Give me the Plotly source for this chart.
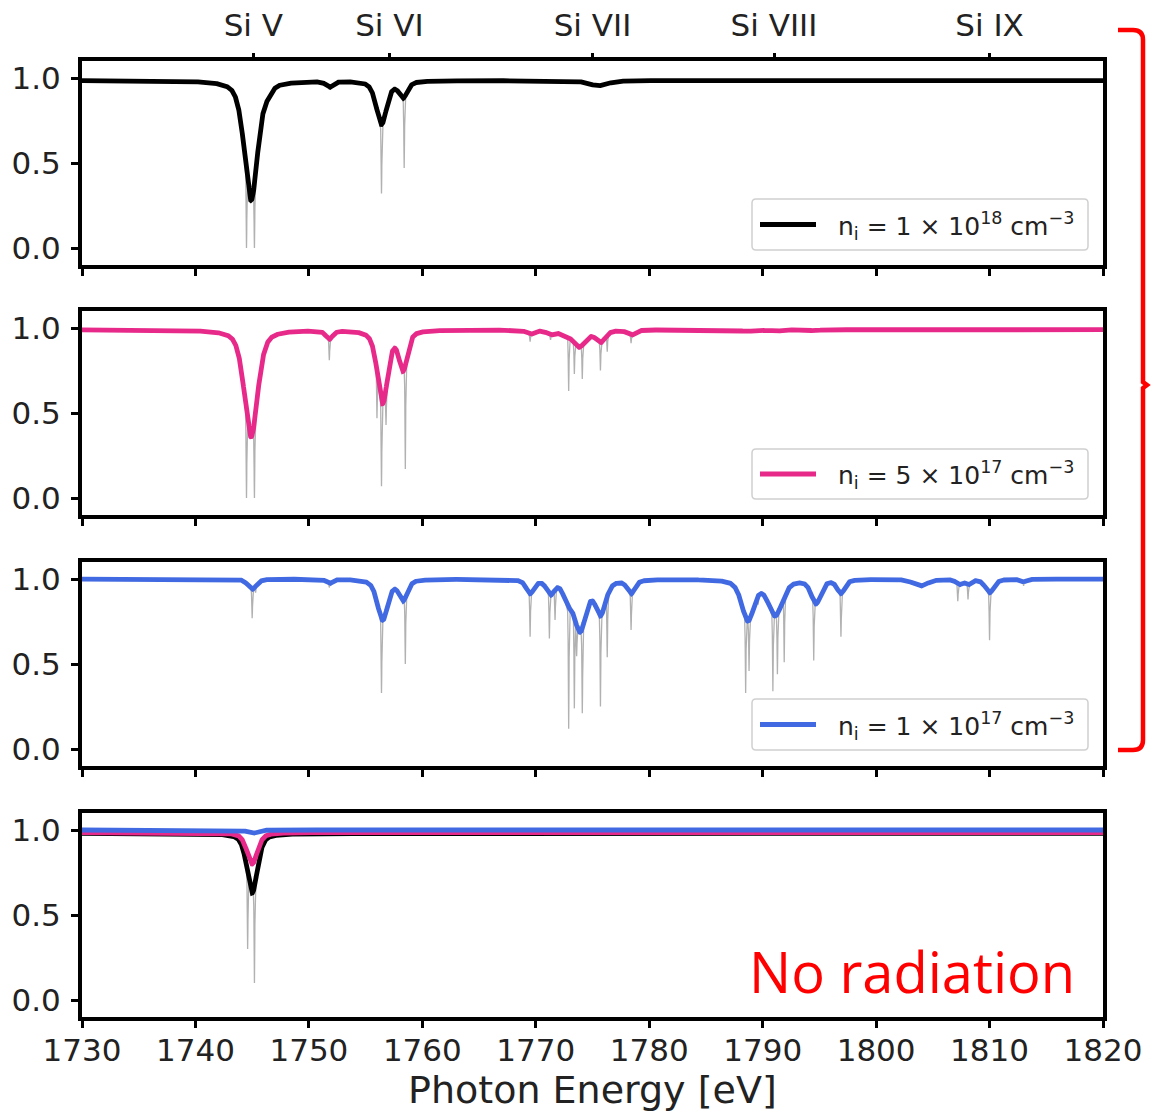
import numpy as np
import plotly.graph_objects as go

# ---------------------------------------------------------------------------
# Transmission spectra of Si ions near the K edge, for three ion densities
# (thick: instrument-broadened, thin gray: intrinsic line spectrum) plus
# a panel without an external radiation field.
# ---------------------------------------------------------------------------

E_MIN, E_MAX = 1730.0, 1820.0
x_ticks = [1730, 1740, 1750, 1760, 1770, 1780, 1790, 1800, 1810, 1820]
y_ticks = [0.0, 0.5, 1.0]
y_tick_text = ["0.0", "0.5", "1.0"]

ion_labels = ["Si V", "Si VI", "Si VII", "Si VIII", "Si IX"]
ion_energies = [1745.1, 1757.1, 1775.0, 1791.0, 1810.0]

density_labels = [
    "n<sub>i</sub> = 1 × 10<sup>18</sup> cm<sup>−3</sup>",
    "n<sub>i</sub> = 5 × 10<sup>17</sup> cm<sup>−3</sup>",
    "n<sub>i</sub> = 1 × 10<sup>17</sup> cm<sup>−3</sup>",
]

# --- n_i = 1e18 cm^-3 -------------------------------------------------------
hi_base = 0.985
hi_centers = [1744.9, 1746.4, 1751.8, 1756.4, 1758.3, 1775.5]
hi_minima = [0.28, 0.95, 0.95, 0.73, 0.89, 0.955]
hi_fwhm = [1.4, 0.8, 0.7, 1.1, 0.9, 2.0]
hi_line_centers = [1744.5, 1745.2, 1751.8, 1756.4, 1756.9, 1758.4]
hi_line_minima = [0.0, 0.0, 0.93, 0.32, 0.85, 0.47]

# --- n_i = 5e17 cm^-3 -------------------------------------------------------
mid_base = 0.99
mid_centers = [1744.9, 1751.8, 1756.5, 1758.3, 1769.5, 1771.3, 1772.4, 1773.8,
               1775.7, 1778.4, 1788.6, 1791.0, 1794.5, 1804.0]
mid_minima = [0.36, 0.94, 0.56, 0.76, 0.965, 0.965, 0.97, 0.89,
              0.92, 0.96, 0.98, 0.98, 0.985, 0.99]
mid_fwhm = [1.4, 0.7, 1.1, 0.9, 0.8, 0.8, 0.8, 1.4,
            1.0, 0.8, 1.2, 1.2, 1.0, 1.5]
mid_line_centers = [1744.5, 1745.0, 1745.2, 1751.8, 1756.0, 1756.4, 1756.8, 1758.5,
                    1769.5, 1771.3, 1772.9, 1773.4, 1774.1, 1775.7, 1776.3, 1778.4]
mid_line_minima = [0.0, 0.62, 0.0, 0.81, 0.47, 0.07, 0.43, 0.17,
                   0.92, 0.93, 0.63, 0.73, 0.70, 0.75, 0.86, 0.91]

# --- n_i = 1e17 cm^-3 -------------------------------------------------------
lo_base = 1.0
lo_centers = [1745.0, 1751.8, 1756.5, 1758.3, 1769.5, 1771.3, 1772.8, 1773.9,
              1775.7, 1778.4, 1788.7, 1791.1, 1794.7, 1796.9, 1803.9, 1807.3,
              1808.1, 1810.0, 1813.0]
lo_minima = [0.94, 0.975, 0.76, 0.88, 0.92, 0.92, 0.90, 0.70,
             0.80, 0.92, 0.76, 0.79, 0.86, 0.92, 0.96, 0.97,
             0.97, 0.92, 0.985]
lo_fwhm = [0.9, 0.6, 1.1, 0.9, 0.8, 0.8, 0.9, 1.3,
           1.1, 0.8, 1.3, 1.5, 1.0, 0.8, 1.5, 0.6,
           0.6, 0.9, 0.6]
lo_line_centers = [1745.0, 1745.3, 1751.8, 1756.4, 1756.8, 1758.5, 1769.5, 1771.2,
                   1771.7, 1772.9, 1773.4, 1773.6, 1774.1, 1775.7, 1776.3, 1778.4,
                   1788.5, 1788.8, 1789.6, 1790.9, 1791.3, 1791.9, 1794.5, 1794.9,
                   1796.9, 1803.7, 1807.2, 1808.1, 1810.0, 1813.0]
lo_line_minima = [0.77, 0.92, 0.95, 0.33, 0.80, 0.50, 0.66, 0.65,
                  0.76, 0.12, 0.24, 0.55, 0.21, 0.25, 0.54, 0.70,
                  0.33, 0.46, 0.85, 0.34, 0.44, 0.51, 0.52, 0.85,
                  0.66, 0.96, 0.87, 0.88, 0.64, 0.96]

# --- no radiation field -----------------------------------------------------
norad_bases = [0.98, 0.985, 1.0]
norad_centers = [1745.0, 1745.0, 1745.0]
norad_minima = [0.63, 0.80, 0.98]
norad_fwhm = [1.1, 1.1, 1.0]
norad_line_centers = [1744.6, 1745.2]
norad_line_minima = [0.30, 0.10]

BLACK = "#000000"
PINK = "#e7298a"
BLUE = "#4169e1"
GRAY = "rgba(125,125,125,0.6)"
FONT = "DejaVu Sans"

W, H = 1152, 1117
X0_PX, X1_PX = 82, 1103
PANELS_PX = [(61, 265), (311, 515), (562, 766), (813, 1017)]

energy = np.linspace(E_MIN, E_MAX, 9001)


def line_profile(x, c, fwhm, eta=0.5):
    """Peak-normalised pseudo-Voigt profile."""
    g = np.exp(-4.0 * np.log(2.0) * ((x - c) / fwhm) ** 2)
    lor = 1.0 / (1.0 + 4.0 * ((x - c) / fwhm) ** 2)
    return eta * lor + (1.0 - eta) * g


def spectrum(base, centers, minima, widths):
    y = np.full_like(energy, base)
    for c, m, w in zip(centers, minima, widths):
        depth = 1.0 - m / base
        y *= 1.0 - depth * line_profile(energy, c, w)
    return y


def line_spectrum(envelope, centers, minima):
    """Narrow line cores cut into the broadened envelope."""
    y = envelope.copy()
    for c, m in zip(centers, minima):
        env_c = np.interp(c, energy, envelope)
        depth = max(0.0, 1.0 - m / env_c) if env_c > 0 else 0.0
        y *= 1.0 - depth * line_profile(energy, c, 0.07, eta=0.3)
    return y


def px(xp):
    return xp / W


def py(yp):
    return 1.0 - yp / H


fig = go.Figure()

panels = [
    (hi_base, hi_centers, hi_minima, hi_fwhm, hi_line_centers, hi_line_minima, BLACK),
    (mid_base, mid_centers, mid_minima, mid_fwhm, mid_line_centers, mid_line_minima, PINK),
    (lo_base, lo_centers, lo_minima, lo_fwhm, lo_line_centers, lo_line_minima, BLUE),
]

for i, (base, cs, ms, ws, lcs, lms, col) in enumerate(panels):
    xa = "x" if i == 0 else f"x{i + 1}"
    ya = "y" if i == 0 else f"y{i + 1}"
    broadened = spectrum(base, cs, ms, ws)
    fig.add_trace(go.Scatter(x=energy, y=line_spectrum(broadened, lcs, lms), mode="lines",
                             line=dict(color=GRAY, width=1.3), xaxis=xa, yaxis=ya,
                             showlegend=False, hoverinfo="skip"))
    fig.add_trace(go.Scatter(x=energy, y=broadened, mode="lines",
                             line=dict(color=col, width=4.8), xaxis=xa, yaxis=ya,
                             showlegend=False))

# no-radiation panel
norad_curves = [spectrum(b, [c], [m], [w])
                for b, c, m, w in zip(norad_bases, norad_centers, norad_minima, norad_fwhm)]
fig.add_trace(go.Scatter(x=energy, y=line_spectrum(norad_curves[0], norad_line_centers, norad_line_minima),
                         mode="lines", line=dict(color=GRAY, width=1.3), xaxis="x4", yaxis="y4",
                         showlegend=False, hoverinfo="skip"))
for curve, col in zip(norad_curves, [BLACK, PINK, BLUE]):
    fig.add_trace(go.Scatter(x=energy, y=curve, mode="lines",
                             line=dict(color=col, width=4.8), xaxis="x4", yaxis="y4",
                             showlegend=False))

# carrier for the top ion-label axis
fig.add_trace(go.Scatter(x=[ion_energies[0]], y=[1.0], mode="lines", xaxis="x5", yaxis="y",
                         line=dict(width=0), showlegend=False, hoverinfo="skip"))

axis_common = dict(showline=True, linecolor="black", linewidth=4, mirror=True,
                   ticks="outside", ticklen=7, tickwidth=3, tickcolor="black",
                   showgrid=False, zeroline=False, automargin=False,
                   tickfont=dict(family=FONT, size=31, color="#222"))

layout = dict(width=W, height=H, margin=dict(l=0, r=0, t=0, b=0, autoexpand=False),
              paper_bgcolor="white", plot_bgcolor="white", showlegend=False)

for i, (top, bot) in enumerate(PANELS_PX):
    n = "" if i == 0 else str(i + 1)
    layout[f"xaxis{n}"] = dict(axis_common, domain=[px(X0_PX), px(X1_PX)],
                               range=[E_MIN, E_MAX], anchor=f"y{n}",
                               tickvals=x_ticks, showticklabels=(i == 3),
                               ticklabelstandoff=-4)
    layout[f"yaxis{n}"] = dict(axis_common, domain=[py(bot), py(top)],
                               range=[-0.1, 1.1], anchor=f"x{n}",
                               tickvals=y_ticks, ticktext=y_tick_text,
                               ticklabelstandoff=4)

layout["xaxis5"] = dict(axis_common, overlaying="x", side="top", anchor="y",
                        range=[E_MIN, E_MAX], tickvals=ion_energies, ticktext=ion_labels,
                        showline=False, mirror=False, ticklabelstandoff=5)

fig.update_layout(**layout)

# legends drawn as boxed entries in the lower-right of each panel
shapes = []
annotations = []
legend_rows_px = [(199, 250), (449, 499), (699, 750)]
for (t, b), col, lab in zip(legend_rows_px, [BLACK, PINK, BLUE], density_labels):
    x0, x1, r = 752, 1088, 4
    path = (f"M {px(x0 + r)},{py(t)} L {px(x1 - r)},{py(t)} Q {px(x1)},{py(t)} {px(x1)},{py(t + r)} "
            f"L {px(x1)},{py(b - r)} Q {px(x1)},{py(b)} {px(x1 - r)},{py(b)} "
            f"L {px(x0 + r)},{py(b)} Q {px(x0)},{py(b)} {px(x0)},{py(b - r)} "
            f"L {px(x0)},{py(t + r)} Q {px(x0)},{py(t)} {px(x0 + r)},{py(t)} Z")
    shapes.append(dict(type="path", path=path, xref="paper", yref="paper",
                       fillcolor="rgba(255,255,255,0.85)",
                       line=dict(color="#d0d0d0", width=1.5)))
    yc = (t + b) / 2
    shapes.append(dict(type="line", xref="paper", yref="paper",
                       x0=px(760), x1=px(816), y0=py(yc), y1=py(yc),
                       line=dict(color=col, width=4.8)))
    annotations.append(dict(text=lab, xref="paper", yref="paper", x=px(836), y=py(yc + 1),
                            xanchor="left", yanchor="middle", showarrow=False,
                            font=dict(family=FONT, size=25, color="#222")))

# bracket grouping the three density panels
bx, btop, bbot, bmid = 1143, 30, 750, 385
bracket = (f"M {px(1118)},{py(btop)} L {px(bx - 10)},{py(btop)} "
           f"Q {px(bx)},{py(btop)} {px(bx)},{py(btop + 10)} "
           f"L {px(bx)},{py(bmid - 3)} L {px(bx + 4)},{py(bmid)} L {px(bx)},{py(bmid + 3)} "
           f"L {px(bx)},{py(bbot - 10)} Q {px(bx)},{py(bbot)} {px(bx - 10)},{py(bbot)} "
           f"L {px(1118)},{py(bbot)}")
shapes.append(dict(type="path", path=bracket, xref="paper", yref="paper",
                   line=dict(color="#ff0000", width=4.5)))

annotations.append(dict(text="Photon Energy [eV]", xref="paper", yref="paper",
                        x=px((X0_PX + X1_PX) / 2), y=py(1090), xanchor="center",
                        yanchor="middle", showarrow=False,
                        font=dict(family=FONT, size=38, color="#222")))
annotations.append(dict(text="No radiation", xref="paper", yref="paper",
                        x=px(1077), y=py(971), xanchor="right", yanchor="middle",
                        showarrow=False, font=dict(family="Open Sans", size=56, color="#ff0000")))

fig.update_layout(shapes=shapes, annotations=annotations)

fig.write_html("out.html")
